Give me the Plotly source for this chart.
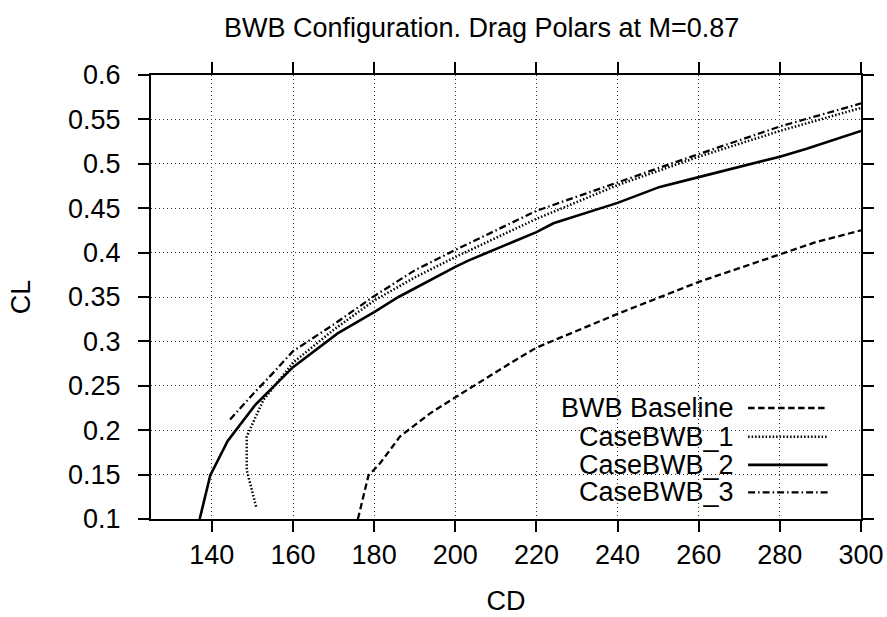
import plotly.graph_objects as go

# ---- data ----
series_names = ["BWB Baseline", "CaseBWB_1", "CaseBWB_2", "CaseBWB_3"]

baseline_cd = [176.0, 178.6, 181.5, 186.4, 193.8, 200.0, 215.2, 220.0, 240.0, 260.0, 280.0, 289.0, 300.0]
baseline_cl = [0.100, 0.149, 0.163, 0.193, 0.219, 0.237, 0.280, 0.293, 0.331, 0.367, 0.398, 0.412, 0.425]

case1_cd = [150.9, 148.6, 148.6, 152.7, 160.0, 170.0, 180.0, 190.0, 200.0, 220.0, 240.0, 260.0, 280.0, 300.0]
case1_cl = [0.114, 0.155, 0.193, 0.234, 0.276, 0.313, 0.346, 0.372, 0.395, 0.438, 0.476, 0.508, 0.537, 0.563]

case2_cd = [137.0, 139.6, 143.9, 150.6, 160.0, 171.0, 180.0, 186.0, 200.0, 203.2, 220.0, 224.2, 240.0, 250.4, 260.0, 280.0, 286.6, 300.0]
case2_cl = [0.100, 0.149, 0.188, 0.228, 0.271, 0.309, 0.333, 0.350, 0.384, 0.391, 0.423, 0.433, 0.456, 0.474, 0.485, 0.508, 0.517, 0.537]

case3_cd = [144.5, 150.0, 155.0, 160.0, 170.0, 180.0, 190.0, 200.0, 220.0, 240.0, 260.0, 280.0, 300.0]
case3_cl = [0.212, 0.240, 0.264, 0.289, 0.319, 0.351, 0.380, 0.403, 0.447, 0.479, 0.511, 0.542, 0.568]

x_ticks = [140, 160, 180, 200, 220, 240, 260, 280, 300]
y_ticks = [0.1, 0.15, 0.2, 0.25, 0.3, 0.35, 0.4, 0.45, 0.5, 0.55, 0.6]
y_tick_text = ["0.1", "0.15", "0.2", "0.25", "0.3", "0.35", "0.4", "0.45", "0.5", "0.55", "0.6"]

styles = [
    dict(color="black", width=2.3, dash="6.5px,3.5px"),
    dict(color="black", width=2.5, dash="1.5px,2px"),
    dict(color="black", width=2.6, dash="solid"),
    dict(color="black", width=2.3, dash="7px,3px,1.5px,3px"),
]

FONT = "Liberation Sans, Arial, sans-serif"
FS = 27

fig = go.Figure()
data = [(baseline_cd, baseline_cl), (case1_cd, case1_cl), (case2_cd, case2_cl), (case3_cd, case3_cl)]
for name, (xs, ys), st in zip(series_names, data, styles):
    fig.add_trace(go.Scatter(x=xs, y=ys, mode="lines", name=name, line=st,
                             showlegend=False, cliponaxis=True))

# custom legend (text right-aligned, line sample to its right), gnuplot style
row_y = [0.250, 0.185, 0.122, 0.060]
for name, st, yy in zip(series_names, styles, row_y):
    fig.add_annotation(x=0.824, y=yy, xref="paper", yref="paper", text=name,
                       showarrow=False, xanchor="right", yanchor="middle",
                       font=dict(family=FONT, size=FS, color="black"))
    fig.add_shape(type="line", xref="paper", yref="paper", x0=0.841, x1=0.953,
                  y0=yy, y1=yy, line=st)

axis_common = dict(
    showline=True, linecolor="black", linewidth=2, mirror="ticks",
    ticks="outside", ticklen=11, tickwidth=1.5, tickcolor="black",
    showgrid=True, gridcolor="#333", gridwidth=1, griddash="1px,3px",
    zeroline=False, automargin=False,
    tickfont=dict(family=FONT, size=FS, color="black"),
)

fig.update_layout(
    width=887, height=617,
    margin=dict(l=151, r=26, t=75, b=98),
    paper_bgcolor="white", plot_bgcolor="white",
    title=dict(text="BWB Configuration. Drag Polars at M=0.87",
               x=0.543, xref="container", xanchor="center",
               y=0.956, yref="container", yanchor="middle",
               font=dict(family=FONT, size=FS, color="black")),
    xaxis=dict(range=[125, 300], tickvals=x_ticks,
               title=dict(text="CD", font=dict(family=FONT, size=FS, color="black"), standoff=22),
               **axis_common),
    yaxis=dict(range=[0.1, 0.6], tickvals=y_ticks, ticktext=y_tick_text,
               title=dict(text="CL", font=dict(family=FONT, size=FS, color="black"), standoff=30),
               ticklabelstandoff=12, **axis_common),
    showlegend=False,
)

fig.write_html("out.html")
